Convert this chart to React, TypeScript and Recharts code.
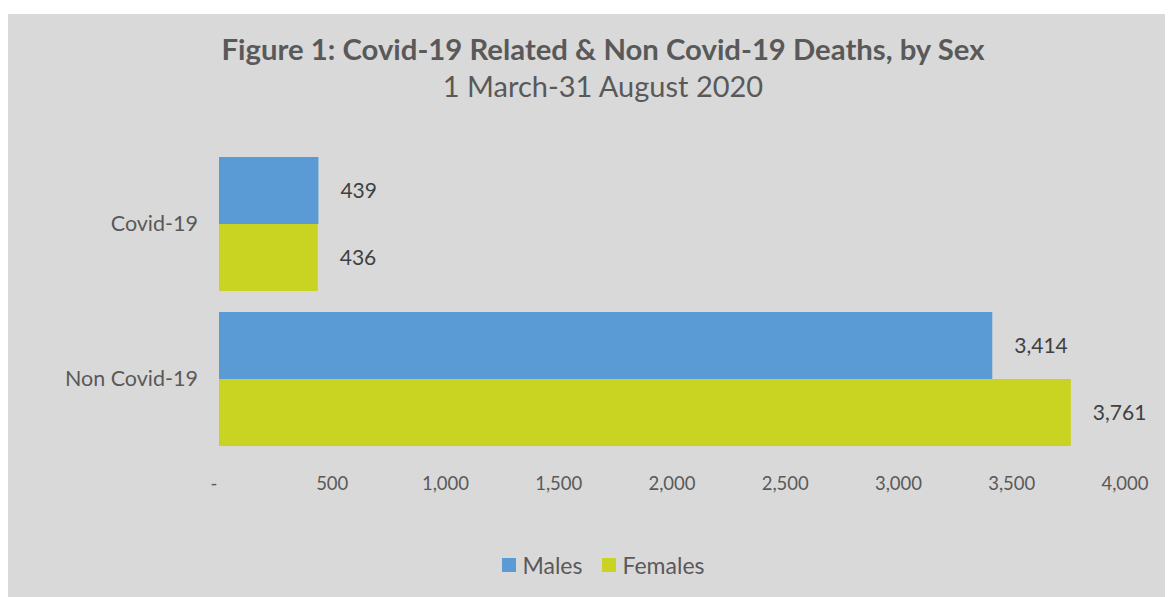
import React from 'react';
import {
  BarChart,
  Bar,
  XAxis,
  YAxis,
  Legend,
  LabelList
} from 'recharts';

const categories = ['Covid-19', 'Non Covid-19'];
const males = [439, 3414];
const females = [436, 3761];
const xTicks = [0, 500, 1000, 1500, 2000, 2500, 3000, 3500, 4000];
const seriesNames = ['Males', 'Females'];

const data = categories.map((name, i) => ({
  name,
  males: males[i],
  females: females[i]
}));

const FONT = 'Lato, "Liberation Sans", sans-serif';
const colors = {
  males: '#5b9bd5',
  females: '#c9d422',
  background: '#d9d9d9',
  text: '#595959',
  label: '#404040'
};

const formatNumber = (v: number) => (v === 0 ? '-' : v.toLocaleString('en-US'));

// X tick: the zero dash sits a little left of the axis origin
const NumberTick = (props: any) => {
  const { x, y, payload } = props;
  const shift = payload.value === 0 ? -5 : 0;
  return (
    <text
      x={x + shift}
      y={y}
      dy="0.71em"
      textAnchor="middle"
      fill={colors.text}
      fontSize={18.5}
      fontFamily={FONT}
    >
      {formatNumber(payload.value)}
    </text>
  );
};

// Custom legend with square swatches, kept in series order
const SquareLegend = (props: any) => {
  const items = [...(props.payload || [])].sort(
    (a: any, b: any) => seriesNames.indexOf(a.value) - seriesNames.indexOf(b.value)
  );
  return (
    <div
      style={{
        display: 'flex',
        justifyContent: 'center',
        gap: 20,
        fontFamily: FONT,
        marginLeft: 74
      }}
    >
      {items.map((entry: any) => (
        <div key={entry.value} style={{ display: 'flex', alignItems: 'center' }}>
          <div style={{ width: 14, height: 14, background: entry.color, marginRight: 6 }} />
          <span style={{ fontSize: 23, color: colors.text }}>{entry.value}</span>
        </div>
      ))}
    </div>
  );
};

const App: React.FC = () => {
  return (
    <div
      style={{
        position: 'relative',
        marginTop: 6,
        width: 1165,
        height: 583,
        background: colors.background,
        fontFamily: FONT
      }}
    >
      <div
        style={{
          position: 'absolute',
          top: 18,
          left: 0,
          width: 1190,
          textAlign: 'center',
          color: colors.text
        }}
      >
        <div style={{ fontSize: 29.3, fontWeight: 700, lineHeight: '34px' }}>
          Figure 1: Covid-19 Related &amp; Non Covid-19 Deaths, by Sex
        </div>
        <div style={{ fontSize: 29, lineHeight: '40px' }}>1 March-31 August 2020</div>
      </div>

      <BarChart
        width={1165}
        height={583}
        data={data}
        layout="vertical"
        margin={{ top: 132, right: 48, left: 0, bottom: 6 }}
        barCategoryGap={11}
        barGap={0}
      >
        <XAxis
          type="number"
          domain={[0, 4000]}
          ticks={xTicks}
          axisLine={false}
          tickLine={false}
          tickSize={0}
          tickMargin={21}
          height={95}
          tick={<NumberTick />}
        />
        <YAxis
          type="category"
          dataKey="name"
          width={211}
          axisLine={false}
          tickLine={false}
          tickSize={0}
          tickMargin={21}
          tick={{ fill: colors.text, fontSize: 21.5, fontFamily: FONT }}
        />
        <Legend verticalAlign="bottom" height={40} content={<SquareLegend />} />
        <Bar dataKey="males" name="Males" fill={colors.males} isAnimationActive={false}>
          <LabelList
            dataKey="males"
            position="right"
            offset={22}
            formatter={(v: any) => formatNumber(Number(v))}
            style={{ fill: colors.label, fontSize: 21, fontFamily: FONT }}
          />
        </Bar>
        <Bar dataKey="females" name="Females" fill={colors.females} isAnimationActive={false}>
          <LabelList
            dataKey="females"
            position="right"
            offset={22}
            formatter={(v: any) => formatNumber(Number(v))}
            style={{ fill: colors.label, fontSize: 21, fontFamily: FONT }}
          />
        </Bar>
      </BarChart>
    </div>
  );
};

export default App;
